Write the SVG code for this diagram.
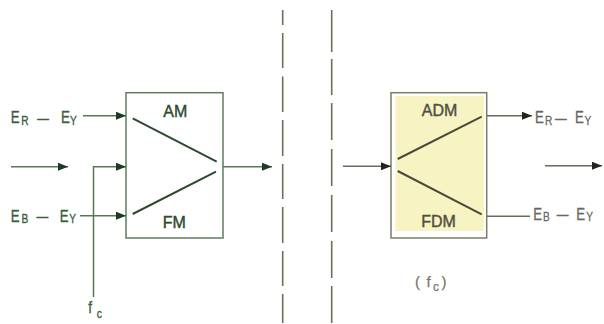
<svg xmlns="http://www.w3.org/2000/svg" width="604" height="324" viewBox="0 0 604 324">
  <style>
    .txt { font-family: "Liberation Sans", Arial, sans-serif; }
    .gtxt { fill: #3b5e3e; stroke: #3b5e3e; stroke-width: 0.35; }
    .otxt { fill: #68685c; stroke: #68685c; stroke-width: 0.3; }
    .box-l { fill: #ffffff; stroke: #5f7c60; stroke-width: 1.5; }
    .box-r { fill: #ffffff; stroke: #7c7c66; stroke-width: 1.5; }
    .diag-l { stroke: #2f4a31; stroke-width: 2; fill: none; }
    .diag-r { stroke: #4a4a3c; stroke-width: 2; fill: none; }
    .wire-l { stroke: #54785a; stroke-width: 1.5; fill: none; }
    .wire-r { stroke: #6a6a5c; stroke-width: 1.5; fill: none; }
    .sep { stroke: #6e6e58; stroke-width: 1.6; fill: none; }
    .mod { font-size: 16px; text-anchor: middle; stroke-width: 0.4; }
  </style>
  <defs>
    <marker id="arrG" viewBox="0 0 10 8" refX="10" refY="4" markerWidth="10" markerHeight="8" markerUnits="userSpaceOnUse" orient="auto">
      <path d="M0,0 L10,4 L0,8 z" fill="#1f3a22"/>
    </marker>
    <marker id="arrK" viewBox="0 0 10 8" refX="10" refY="4" markerWidth="10" markerHeight="8" markerUnits="userSpaceOnUse" orient="auto">
      <path d="M0,0 L10,4 L0,8 z" fill="#23231c"/>
    </marker>
  </defs>

  <!-- dashed separators -->
  <g id="separators" class="sep">
    <path d="M282.7,10 V25 M282.7,33 V68 M282.7,76.6 V112 M282.7,120 V156 M282.7,164 V199 M282.7,207 V243 M282.7,251 V286 M282.7,294 V323"/>
    <path d="M331.7,10 V52 M331.7,59 V95 M331.7,103 V140 M331.7,149 V186 M331.7,195 V232 M331.7,241 V278 M331.7,286 V323"/>
  </g>

  <!-- modulator -->
  <g id="modulator">
    <rect class="box-l" x="126" y="92.7" width="97" height="145.3"/>
    <path class="diag-l" d="M132.7,118.3 L216.7,161.7 M132.7,214 L216,171.7"/>
    <text class="txt mod" x="175.3" y="116.7" fill="#2e4a30" stroke="#2e4a30">AM</text>
    <text class="txt mod" x="174.2" y="228" fill="#2e4a30" stroke="#2e4a30">FM</text>
  </g>

  <!-- demodulator -->
  <g id="demodulator">
    <rect class="box-r" x="391" y="92.7" width="95.7" height="145.3"/>
    <rect x="395.5" y="96" width="88.5" height="135" fill="#f7f3c2"/>
    <path class="diag-r" d="M397.7,159 L481.7,116.7 M397.7,171 L481.7,214.3"/>
    <text class="txt mod" x="439.5" y="115.5" fill="#4f4f42" stroke="#4f4f42">ADM</text>
    <text class="txt mod" x="438.5" y="226.5" fill="#4f4f42" stroke="#4f4f42">FDM</text>
  </g>

  <!-- input label E_R - E_Y -->
  <g id="in-er" class="txt gtxt">
    <g transform="translate(10.7 123.3) scale(0.78 1)">
      <text font-size="17"><tspan x="0">E</tspan><tspan x="13.5" y="1.7" font-size="13">R</tspan><tspan x="34" y="-0.5" font-size="15">—</tspan><tspan x="64.5" y="0" font-size="17">E</tspan><tspan x="76" y="1.7" font-size="13">Y</tspan></text>
    </g>
  </g>

  <!-- input label E_B - E_Y -->
  <g id="in-eb" class="txt gtxt">
    <g transform="translate(10.7 221.5) scale(0.78 1)">
      <text font-size="17"><tspan x="0">E</tspan><tspan x="14" y="1.7" font-size="13">B</tspan><tspan x="33" y="-0.5" font-size="15">—</tspan><tspan x="63" y="0" font-size="17">E</tspan><tspan x="75" y="1.7" font-size="13">Y</tspan></text>
    </g>
  </g>

  <!-- carrier label f_c -->
  <g id="carrier" class="txt gtxt">
    <g transform="translate(88.3 313.3) scale(0.8 1)">
      <text font-size="17"><tspan x="0">f</tspan><tspan x="10.5" y="4.5" font-size="13">c</tspan></text>
    </g>
  </g>

  <!-- output label E_R - E_Y -->
  <g id="out-er" class="txt otxt">
    <g transform="translate(535 123.3) scale(0.78 1)">
      <text font-size="17"><tspan x="0">E</tspan><tspan x="12.8" y="1.7" font-size="13">R</tspan><tspan x="25.5" y="-0.5" font-size="15">—</tspan><tspan x="51.3" y="0" font-size="17">E</tspan><tspan x="63.5" y="1.7" font-size="13">Y</tspan></text>
    </g>
  </g>

  <!-- output label E_B - E_Y -->
  <g id="out-eb" class="txt otxt">
    <g transform="translate(533.3 219.5) scale(0.78 1)">
      <text font-size="17"><tspan x="0">E</tspan><tspan x="12.5" y="1.7" font-size="13">B</tspan><tspan x="30" y="-0.5" font-size="15">—</tspan><tspan x="55" y="0" font-size="17">E</tspan><tspan x="68" y="1.7" font-size="13">Y</tspan></text>
    </g>
  </g>

  <!-- recovered carrier label (f_c) -->
  <g id="carrier-rx" class="txt" fill="#76766a" stroke="#76766a" stroke-width="0.25">
    <text font-size="15" y="287"><tspan x="415">(</tspan><tspan x="426.5">f</tspan><tspan x="433" y="291" font-size="12">c</tspan><tspan x="441.5" y="287">)</tspan></text>
  </g>

  <!-- connectors -->
  <g id="connectors">
    <path class="wire-l" d="M83,115.7 H126" marker-end="url(#arrG)"/>
    <path class="wire-l" d="M11,166.7 H68" marker-end="url(#arrG)"/>
    <path class="wire-l" d="M93.5,297 V166.7 H126" marker-end="url(#arrG)" stroke="#7f9a7c"/>
    <path class="wire-l" d="M80,215.7 H126" marker-end="url(#arrG)"/>
    <path class="wire-l" d="M223,166.7 H272" marker-end="url(#arrG)"/>
    <path class="wire-r" d="M343,166.3 H391" marker-end="url(#arrK)"/>
    <path class="wire-r" d="M486.7,115.7 H532" marker-end="url(#arrK)"/>
    <path class="wire-r" d="M486.7,216.3 H530"/>
    <path class="wire-r" d="M545,165.7 H602" marker-end="url(#arrK)"/>
  </g>
</svg>
